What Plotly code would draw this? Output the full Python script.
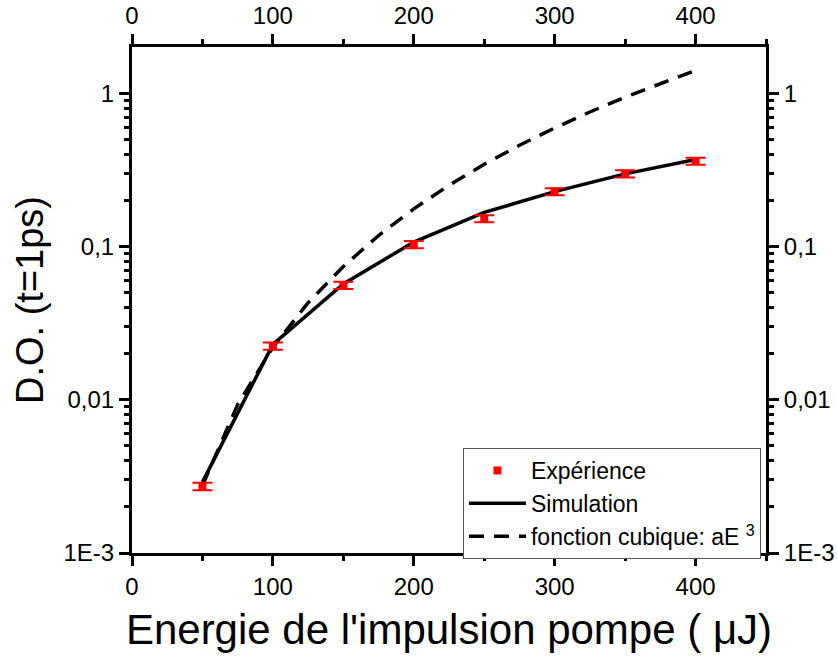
import plotly.graph_objects as go

# Expérience (points mesurés)
energie_exp = [50, 100, 150, 200, 250, 300, 350, 400]
do_exp = [0.00272, 0.0224, 0.0559, 0.103, 0.152, 0.228, 0.298, 0.361]
err_exp = [0.00015, 0.0012, 0.003, 0.0055, 0.008, 0.012, 0.016, 0.019]

# Simulation
energie_sim = [50, 100, 150, 200, 250, 300, 350, 400]
do_sim = [0.0029, 0.023, 0.057, 0.107, 0.167, 0.228, 0.298, 0.37]

# fonction cubique aE^3
energie_cub = [50, 75, 100, 125, 150, 175, 200, 225, 250, 275, 300, 325, 350, 375, 400]
do_cub = [0.00275, 0.0093, 0.022, 0.043, 0.074, 0.118, 0.176, 0.251, 0.344,
          0.458, 0.594, 0.755, 0.944, 1.16, 1.41]

x_major = [0, 100, 200, 300, 400]
x_minor = [50, 150, 250, 350, 450]
y_major = [0.001, 0.01, 0.1, 1]
y_labels = ["1E-3", "0,01", "0,1", "1"]
y_minor = [m * d for d in [0.001, 0.01, 0.1, 1] for m in range(2, 10) if m * d < 2.0]

FONT = "Liberation Sans, Arial, sans-serif"

fig = go.Figure()

fig.add_trace(go.Scatter(
    x=energie_cub, y=do_cub, mode="lines", name="fonction cubique: aE <sup>3</sup>",
    line=dict(color="black", width=3.5, dash="15px,10px"),
))
fig.add_trace(go.Scatter(
    x=energie_sim, y=do_sim, mode="lines", name="Simulation",
    line=dict(color="black", width=3.5),
))
fig.add_trace(go.Scatter(
    x=energie_exp, y=do_exp, mode="markers", name="Expérience",
    marker=dict(color="red", symbol="square", size=8),
    error_y=dict(type="data", array=err_exp, color="red", thickness=2, width=10),
))
# trace invisible pour dessiner les axes miroirs
fig.add_trace(go.Scatter(x=[0], y=[1], xaxis="x2", yaxis="y2", mode="markers",
                         marker=dict(opacity=0), showlegend=False, hoverinfo="skip"))

axis_common = dict(showline=True, linecolor="black", linewidth=3, showgrid=False,
                   zeroline=False, ticks="outside", tickwidth=2.5, tickcolor="black",
                   ticklen=10, automargin=False,
                   tickfont=dict(family=FONT, size=24, color="black"))
minor_x = dict(tickvals=x_minor, ticklen=5, ticks="outside", tickwidth=2.5, tickcolor="black")
minor_y = dict(tickvals=y_minor, ticklen=5, ticks="outside", tickwidth=2.5, tickcolor="black")

fig.update_layout(
    width=837, height=661,
    plot_bgcolor="white", paper_bgcolor="white",
    margin=dict(l=132, r=71, t=47, b=108),
    font=dict(family=FONT, color="black"),
    xaxis=dict(range=[0, 450], tickvals=x_major, minor=minor_x,
               title=dict(text="Energie de l'impulsion pompe ( μJ)",
                          font=dict(family=FONT, size=42), standoff=16),
               **axis_common),
    xaxis2=dict(range=[0, 450], overlaying="x", side="top", tickvals=x_major, minor=minor_x,
                **axis_common),
    yaxis=dict(type="log", range=[-3, 0.302], tickvals=y_major, ticktext=y_labels,
               minor=minor_y,
               title=dict(text="D.O. (t=1ps)", font=dict(family=FONT, size=38), standoff=9),
               **axis_common),
    yaxis2=dict(type="log", range=[-3, 0.302], overlaying="y", side="right", tickvals=y_major,
                ticktext=y_labels, minor=minor_y, **axis_common),
    legend=dict(x=0.522, y=0.2075, xanchor="left", yanchor="top",
                bgcolor="white", bordercolor="#555", borderwidth=1,
                font=dict(family=FONT, size=23, color="black"),
                traceorder="reversed", tracegroupgap=0, itemwidth=57),
    showlegend=True,
)

fig.write_html("out.html", config={"displayModeBar": False},
               post_script="document.body.style.margin='0';")
